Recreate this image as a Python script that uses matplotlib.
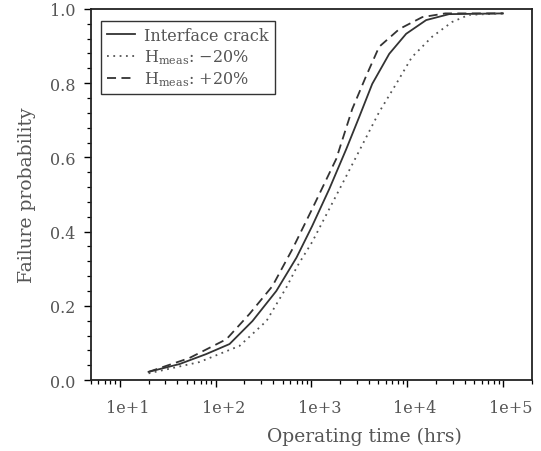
import matplotlib
matplotlib.use("Agg")
import matplotlib.pyplot as plt
import matplotlib.transforms as mtransforms
from matplotlib.ticker import LogLocator, FixedLocator, NullFormatter, MultipleLocator

plt.rcParams['font.family'] = ['DejaVu Serif']
plt.rcParams['mathtext.fontset'] = 'dejavuserif'

# values
t_base = [20, 42, 80, 140, 243, 431, 700, 1020, 1540, 2320, 3160, 4320, 6500, 9760, 15800, 27400, 100000]
p_base = [0.022, 0.043, 0.070, 0.097, 0.159, 0.240, 0.330, 0.415, 0.515, 0.623, 0.709, 0.798, 0.879, 0.933, 0.970, 0.986, 0.988]

t_minus = [20, 68, 178, 340, 550, 714, 1020, 2320, 5100, 7680, 11200, 18200, 29500, 44000, 100000]
p_minus = [0.018, 0.0485, 0.092, 0.159, 0.250, 0.307, 0.372, 0.550, 0.722, 0.798, 0.870, 0.925, 0.965, 0.984, 0.988]

t_plus = [20, 53, 130, 226, 392, 635, 1020, 1820, 2670, 3700, 5100, 8300, 14400, 25000, 100000]
p_plus = [0.022, 0.059, 0.110, 0.178, 0.253, 0.353, 0.461, 0.596, 0.730, 0.817, 0.898, 0.946, 0.978, 0.988, 0.988]

x_ticks = [10, 100, 1000, 10000, 100000]
x_tick_labels = ['1e+1', '1e+2', '1e+3', '1e+4', '1e+5']

fig = plt.figure(figsize=(5.41, 4.52), dpi=100)
ax = fig.add_axes([0.168, 0.157, 0.815, 0.821])

ax.plot(t_base, p_base, color='#333333', lw=1.3, ls='-', label='Interface crack')
ax.plot(t_minus, p_minus, color='#555555', lw=1.3, ls=(0, (1, 2.5)), label=r'H$_{\mathregular{meas}}$: $-$20%')
ax.plot(t_plus, p_plus, color='#333333', lw=1.3, ls=(0, (5, 3)), label=r'H$_{\mathregular{meas}}$: +20%')

ax.set_xscale('log')
ax.set_xlim(5, 2e5)
ax.set_ylim(0, 1.0)

ax.xaxis.set_major_locator(FixedLocator(x_ticks))
ax.set_xticklabels(x_tick_labels)
ax.xaxis.set_minor_locator(LogLocator(base=10, subs=range(2, 10)))
ax.xaxis.set_minor_formatter(NullFormatter())
ax.yaxis.set_major_locator(MultipleLocator(0.2))
ax.yaxis.set_minor_locator(MultipleLocator(0.04))
ax.set_yticks([0, 0.2, 0.4, 0.6, 0.8, 1.0])
ax.set_yticklabels(['0.0', '0.2', '0.4', '0.6', '0.8', '1.0'])

ax.tick_params(which='major', direction='out', length=5, width=1.0, labelsize=11.5,
               labelcolor='#555555', pad=6)
ax.tick_params(which='minor', direction='out', length=3, width=0.9)
ax.tick_params(axis='x', which='major', pad=9)

# labels sit a little right of their ticks in the original
offset = mtransforms.ScaledTranslation(8 / 100, 0, fig.dpi_scale_trans)
for lbl in ax.get_xticklabels():
    lbl.set_transform(lbl.get_transform() + offset)

for s in ax.spines.values():
    s.set_linewidth(1.3)
    s.set_color('#222222')

ax.set_xlabel('Operating time (hrs)', fontsize=13.5, color='#555555')
ax.xaxis.set_label_coords(0.62, -0.125)
ax.set_ylabel('Failure probability', fontsize=13.5, color='#555555', labelpad=10)

leg = ax.legend(loc='upper left', bbox_to_anchor=(0.005, 0.99), fontsize=11.5,
                frameon=True, fancybox=False, edgecolor='#333333', framealpha=1,
                handlelength=1.7, handletextpad=0.6, borderpad=0.4, labelspacing=0.2)
leg.get_frame().set_linewidth(1.0)
for txt in leg.get_texts():
    txt.set_color('#555555')

fig.savefig('out.png', dpi=100)
